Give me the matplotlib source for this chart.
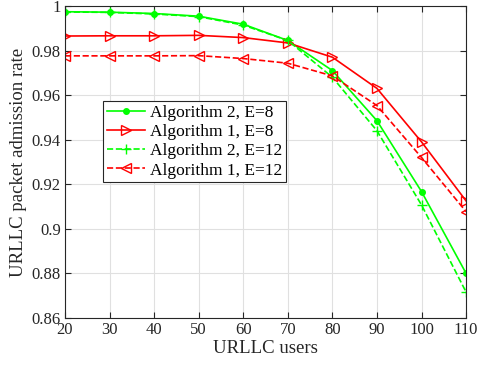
import matplotlib
matplotlib.use('Agg')
import matplotlib.pyplot as plt

users = [20, 30, 40, 50, 60, 70, 80, 90, 100, 110]
alg2_e8 = [0.9974, 0.9972, 0.9966, 0.9954, 0.9918, 0.9845, 0.9710, 0.9485, 0.9167, 0.8800]
alg1_e8 = [0.9865, 0.9866, 0.9866, 0.9868, 0.9858, 0.9834, 0.9770, 0.9630, 0.9390, 0.9125]
alg2_e12 = [0.9973, 0.9971, 0.9964, 0.9952, 0.9914, 0.9845, 0.9680, 0.9440, 0.9107, 0.8716]
alg1_e12 = [0.9776, 0.9776, 0.9776, 0.9777, 0.9764, 0.9743, 0.9686, 0.9553, 0.9320, 0.9077]

plt.rcParams['font.family'] = ['Liberation Serif', 'DejaVu Serif']

fig = plt.figure(figsize=(4.81, 3.71), dpi=100)
ax = fig.add_axes([0.135, 0.143, 0.834, 0.841])

ax.plot(users, alg2_e8, color='#00ff00', marker='o', markersize=4, lw=1.2,
        label='Algorithm 2, E=8')
ax.plot(users, alg1_e8, color='#ff0000', marker='>', markersize=6.5, lw=1.2,
        markerfacecolor='none', label='Algorithm 1, E=8')
ax.plot(users, alg2_e12, color='#00ff00', marker='+', markersize=6.5, lw=1.2,
        ls='--', label='Algorithm 2, E=12')
ax.plot(users, alg1_e12, color='#ff0000', marker='<', markersize=6.5, lw=1.2,
        ls='--', markerfacecolor='none', label='Algorithm 1, E=12')

ax.set_xlim(20, 110)
ax.set_ylim(0.86, 1.0)
ax.set_xticks(users)
ax.set_yticks([0.86, 0.88, 0.9, 0.92, 0.94, 0.96, 0.98, 1])
ax.set_yticklabels(['0.86', '0.88', '0.9', '0.92', '0.94', '0.96', '0.98', '1'])
ax.grid(True, color='#e0e0e0', lw=0.8)
ax.set_axisbelow(True)
ax.tick_params(direction='in', top=True, right=True, labelsize=12,
               colors='#262626', length=4, pad=3)
for s in ax.spines.values():
    s.set_color('#262626')
ax.set_xlabel('URLLC users', fontsize=13.5, color='#262626', labelpad=1)
ax.set_ylabel('URLLC packet admission rate', fontsize=13.5, color='#262626', labelpad=3)

leg = ax.legend(loc='upper left', bbox_to_anchor=(0.095, 0.695), fontsize=12.5,
                fancybox=False, framealpha=1, edgecolor='#262626',
                borderpad=0.2, labelspacing=0.18, handlelength=2.2,
                handletextpad=0.3, borderaxespad=0)
leg.get_frame().set_linewidth(0.8)

fig.savefig('out.png', dpi=100)
